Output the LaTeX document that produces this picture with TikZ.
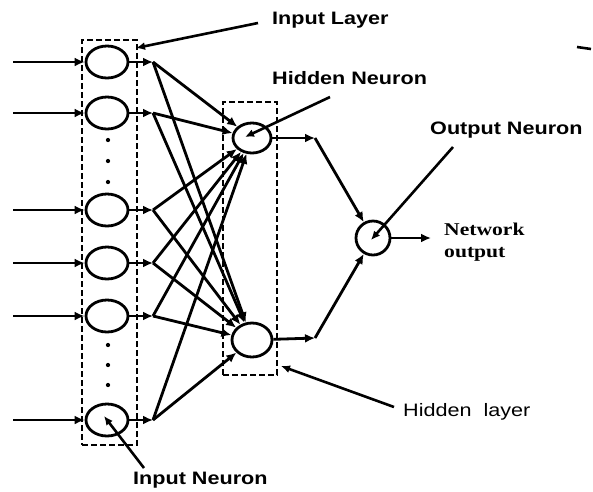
\documentclass[tikz,border=0pt]{standalone}
\usepackage{fontspec}
\usetikzlibrary{shapes.geometric,arrows.meta}
\newfontfamily\labfont[FakeStretch=1.2]{Liberation Sans}
\newfontfamily\netfont[FakeStretch=1.2]{Liberation Serif}
\begin{document}
\begin{tikzpicture}[x=1pt,y=-1pt,
  neuron/.style={draw,line width=2.8pt,ellipse,minimum width=42pt,minimum height=32pt,inner sep=0pt},
  hneuron/.style={draw,line width=2.8pt,ellipse,minimum width=38pt,minimum height=30pt,inner sep=0pt},
  layerbox/.style={draw,line width=2.6pt,dash pattern=on 6pt off 3pt,minimum width=#1,inner sep=0pt},
  arr/.style={line width=2.8pt,-{Latex[length=10pt,width=9pt]}},
  thin arr/.style={line width=2.6pt,-{Latex[length=9pt,width=8pt]}},
  lab/.style={font=\labfont\bfseries\fontsize{18}{18}\selectfont,inner sep=0pt,anchor=west},
  dotmark/.style={fill,circle,inner sep=1.5pt}
]
\useasboundingbox (0,0) rectangle (593,491);
% layer boxes
\node[layerbox=55pt,minimum height=405pt] (ilayer) at (109.5,242.5) {};
\node[layerbox=54pt,minimum height=273pt] (hlayer) at (250,238.5) {};
% input neurons
\foreach \n/\y in {1/62,2/113,3/210,4/263,5/316,6/420}{
  \node[neuron] (i\n) at (107,\y) {};
  \coordinate (s\n) at (13,\y);
  \coordinate (o\n) at (153,\y);
}
% dots
\foreach \y in {140,161,182,345,365,385} \node[dotmark] at (108,\y) {};
% hidden and output neurons
\node[hneuron] (h1) at (252,138) {};
\node[hneuron,minimum width=40pt,minimum height=34pt] (h2) at (252,340) {};
\node[draw,line width=2.8pt,circle,minimum size=34pt,inner sep=0pt] (out) at (373,238) {};
\coordinate (t1) at (315,138);
\coordinate (t2) at (315,338);
\coordinate (netend) at (431,238);
% connectors
\foreach \n in {1,...,6}{
  \draw[arr] (s\n) -- (i\n);
  \draw[arr] (i\n) -- (o\n);
  \draw[arr] (o\n) -- (h1);
  \draw[arr] (o\n) -- (h2);
}
\draw[arr] (h1) -- (t1);
\draw[arr] (t1) -- (out);
\draw[arr] (h2) -- (t2);
\draw[arr] (t2) -- (out);
\draw[arr] (out) -- (netend);
% labels
\node[lab] (inlay) at (272,20) {Input Layer};
\node[lab] (hidneu) at (272,78) {Hidden Neuron};
\node[lab] (outneu) at (430,130) {Output Neuron};
\node[lab] (inneu) at (133,480) {Input Neuron};
\node[lab,font=\labfont\fontsize{18}{18}\selectfont] (hidlay) at (403,412) {Hidden\ \ layer};
\node[inner sep=0pt,anchor=west,font=\netfont\bfseries\fontsize{18}{18}\selectfont] (net1) at (444,229) {Network};
\node[inner sep=0pt,anchor=west,font=\netfont\bfseries\fontsize{18}{18}\selectfont] (net2) at (444,254) {output};
% label pointers
\coordinate (c1) at (258,23);
\coordinate (c1t) at (136,48);
\draw[thin arr] (c1) -- (c1t);
\coordinate (c2) at (330,97);
\coordinate (c2t) at (245,137);
\draw[thin arr] (c2) -- (c2t);
\coordinate (c3) at (453,147);
\coordinate (c3t) at (371,240);
\draw[thin arr] (c3) -- (c3t);
\coordinate (c4) at (394,407);
\coordinate (c4t) at (281,366);
\draw[thin arr] (c4) -- (c4t);
\coordinate (c5) at (144,468);
\coordinate (c5t) at (104,416);
\draw[thin arr] (c5) -- (c5t);
% stray mark
\coordinate (m1) at (577,47);
\coordinate (m2) at (591,49);
\draw[line width=2.6pt] (m1) -- (m2);
\end{tikzpicture}
\end{document}
